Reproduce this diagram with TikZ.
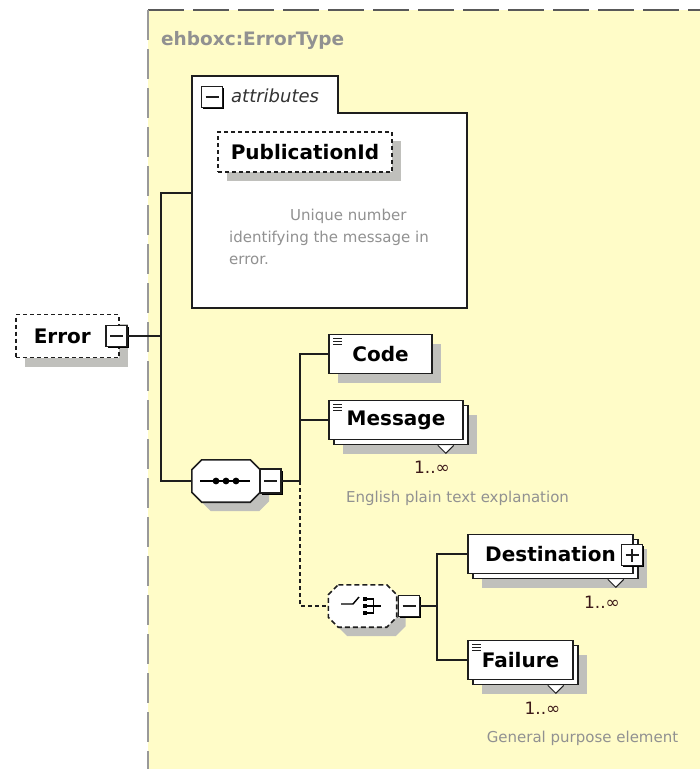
\documentclass[tikz,border=0pt]{standalone}
\usepackage{fontspec}
\setmainfont{DejaVu Sans}
\usepackage{tikz}
\usetikzlibrary{shadows,calc}

\definecolor{paneyellow}{RGB}{255,252,200}
\definecolor{boxline}{RGB}{30,30,30}
\definecolor{notegray}{RGB}{145,145,145}
\definecolor{multred}{RGB}{60,25,25}
\definecolor{shadegray}{RGB}{192,192,188}

\tikzset{
  conn/.style={line width=1.5pt, draw=boxline},
  elembox/.style={draw=boxline, fill=white, line width=1.6pt, inner sep=0pt,
    minimum height=39pt, font=\bfseries\fontsize{20}{22}\selectfont},
  shade9/.style={drop shadow={shadow xshift=9pt, shadow yshift=-9pt, draw=none, fill=shadegray, opacity=1}},
  single/.style={elembox, shade9},
  multi/.style={elembox,
    drop shadow={shadow xshift=14pt, shadow yshift=-14pt, draw=none, fill=shadegray, opacity=1},
    copy shadow={shadow xshift=5pt, shadow yshift=-5pt, draw=boxline, fill=white, line width=1.6pt}},
  simple/.style={path picture={
    \foreach \d in {3.5,6.5,9.5}
      \draw[line width=.9pt] ([xshift=4pt,yshift=-\d pt]path picture bounding box.north west) -- ++(9pt,0pt);}},
  optbox/.style={elembox, dashed, dash pattern=on 4pt off 3pt},
  toggle/.style={draw=boxline, fill=white, line width=1.6pt, minimum size=21pt, inner sep=0pt,
    drop shadow={shadow xshift=1.5pt, shadow yshift=-1.5pt, draw=none, fill=black, opacity=1}},
  minus/.style={toggle, path picture={
    \draw[line width=1.2pt] ([xshift=4pt]path picture bounding box.west) -- ([xshift=-4pt]path picture bounding box.east);}},
  plus/.style={toggle, path picture={
    \draw[line width=1.2pt] ([xshift=4pt]path picture bounding box.west) -- ([xshift=-4pt]path picture bounding box.east);
    \draw[line width=1.2pt] ([yshift=4pt]path picture bounding box.south) -- ([yshift=-4pt]path picture bounding box.north);}},
  compositor/.style={inner sep=0pt, minimum width=68pt, minimum height=42pt},
  octline/.style={draw=boxline, fill=white, line width=1.6pt, shade9},
  choiceline/.style={octline, dash pattern=on 5pt off 3pt},
  mult/.style={font=\fontsize{17}{19}\selectfont, text=multred, inner sep=0pt},
  note/.style={font=\fontsize{15}{22}\selectfont, text=notegray, inner sep=0pt}
}

\begin{document}
\begin{tikzpicture}[x=1pt, y=-1pt]
  \useasboundingbox (0,0) rectangle (700,769);
  \fill[paneyellow] (148,10) rectangle (700,769);
  \draw[line width=1.6pt, draw=black!65, dash pattern=on 36pt off 9pt] (148,10) -- (700,10);
  \draw[line width=1.2pt, draw=black!40, dash pattern=on 30pt off 9pt] (148,10) -- (148,769);
  \node[anchor=west, font=\bfseries\fontsize{18.5}{20}\selectfont, text=notegray, inner sep=0pt] (typename) at (161,40) {ehboxc:ErrorType};

  \draw[line width=1.6pt, draw=boxline, fill=white] (192,308) -- (192,76) -- (338,76) -- (338,113) -- (467,113) -- (467,308) -- cycle;
  \coordinate (attr) at (192,193);
  \node[minus] (attrmin) at (212,97) {};
  \node[anchor=west, font=\itshape\fontsize{18}{20}\selectfont, text=black!80, inner sep=0pt] (attrlabel) at (231,96) {attributes};
  \node[optbox, shade9, minimum width=174pt, minimum height=40pt] (pubid) at (305,152) {PublicationId};
  \node[note, anchor=north west, align=left] (pubnote) at (229,209) {\hspace*{61pt}Unique number\\identifying the message in\\error.};

  \node[optbox, shade9, anchor=west, minimum height=43pt, text width=67pt, inner xsep=18pt, align=left] (error) at (15,336) {Error};
  \node[minus] (errmin) at (116.5,336) {};
  \coordinate (trunk) at (161,336);

  \node[compositor] (seq) at (226,481) {};
  \node[compositor] (choice) at (362.5,606) {};
  \foreach \n/\s in {seq/octline, choice/choiceline}
    \draw[\s] ($(\n.north west)+(10,0)$) -- ($(\n.north east)+(-10,0)$) -- ($(\n.north east)+(0,10)$)
      -- ($(\n.south east)+(0,-10)$) -- ($(\n.south east)+(-10,0)$) -- ($(\n.south west)+(10,0)$)
      -- ($(\n.south west)+(0,-10)$) -- ($(\n.north west)+(0,10)$) -- cycle;

  \draw[line width=1.4pt] ($(seq.center)+(-26,0)$) -- ($(seq.center)+(24,0)$);
  \foreach \dx in {-10,0,10}
    \fill ($(seq.center)+(\dx,0)$) circle (3.4pt);
  \node[minus, minimum height=24pt] (seqmin) at (270.5,481) {};
  \coordinate (fork) at (300,481);

  \node[single, simple, minimum width=103pt] (code) at (380.5,354) {Code};
  \node[multi, simple, minimum width=134pt] (msg) at (396,420) {Message};
  \node[mult] (msgmult) at (432,467) {1..∞};
  \node[note] (msgnote) at (457.5,498) {English plain text explanation};

  \draw[line width=1.4pt] ($(choice.center)+(-21.5,-2)$) -- ++(12,0) -- ++(6,-7);
  \foreach \dy in {-9,-2,5}
    \fill ($(choice.center)+(0,\dy)$) rectangle ++(4,4);
  \draw[line width=1.4pt] ($(choice.center)+(4,-7)$) -- ++(7,0) -- ++(0,14) -- ++(-7,0);
  \draw[line width=1.4pt] ($(choice.center)+(4,0)$) -- ++(14,0);
  \node[minus] (chmin) at (409,606) {};
  \coordinate (fork2) at (437,606);

  \node[multi, minimum width=165pt] (dest) at (550.5,554) {Destination};
  \node[plus] (destplus) at (632,555) {};
  \node[mult] (destmult) at (602,602) {1..∞};
  \node[multi, simple, minimum width=105pt] (fail) at (520.5,660) {Failure};
  \node[mult] (failmult) at (542.5,708) {1..∞};
  \node[note] (failnote) at (582.5,738) {General purpose element};

  \foreach \n in {msg,dest,fail}
    \filldraw[draw=boxline, fill=white, line width=1pt] ($(\n.south east)+(-26,5)$) -- ++(8,8) -- ++(8,-8);

  \draw[conn] (errmin.east) -- (trunk);
  \draw[conn] (attr) -| (trunk) |- (seq.west);
  \draw[conn] (seqmin.east) -- (fork);
  \draw[conn] (code.west) -| (fork);
  \draw[conn] (msg.west) -| (fork);
  \draw[conn, dash pattern=on 4pt off 3pt] (fork) |- (choice.west);
  \draw[conn] (chmin.east) -- (fork2);
  \draw[conn] (dest.west) -| (fork2) |- (fail.west);
\end{tikzpicture}
\end{document}
